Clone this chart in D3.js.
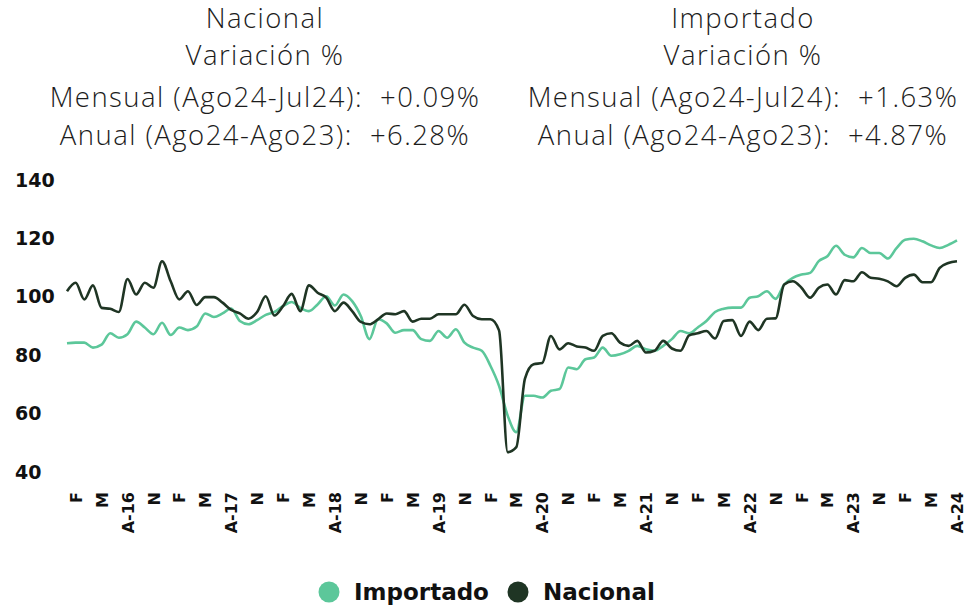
<!DOCTYPE html>
<html>
<head>
<meta charset="utf-8">
<script src="https://cdn.jsdelivr.net/npm/d3@7"></script>
<style>
  html, body { margin: 0; padding: 0; background: #fff; }
  svg text { white-space: pre; }
</style>
</head>
<body>
<svg id="chart" width="979" height="606"></svg>
<script>
// Monthly index, Jan 2016 - Aug 2024
const nacional = [
  101.9, 104.8, 99.1, 103.9, 96.2, 95.9, 94.8, 106.1, 100.8, 104.8,
  103.1, 112.2, 105.3, 99.1, 101.9, 97.2, 99.9, 99.9, 98.0, 95.5,
  94.3, 92.5, 94.8, 100.2, 93.6, 96.8, 101.0, 95.1, 103.9, 101.4,
  99.7, 95.1, 98.0, 95.1, 91.4, 90.6, 92.3, 94.3, 94.0, 95.1,
  91.5, 92.5, 92.5, 94.0, 94.0, 94.0, 97.3, 93.4, 92.3, 92.3,
  88.5, 46.8, 48.5, 72.0, 76.9, 77.3, 86.6, 82.0, 84.1, 83.0,
  82.6, 81.5, 86.6, 87.5, 84.3, 83.2, 84.9, 80.9, 81.5, 84.9,
  82.3, 81.5, 86.8, 87.5, 88.3, 85.7, 91.7, 92.0, 86.6, 91.5,
  88.6, 92.5, 92.6, 104.2, 105.3, 103.1, 99.7, 103.1, 104.2, 100.8,
  105.7, 105.3, 108.4, 106.5, 106.2, 105.3, 103.6, 106.5, 107.6, 105.0,
  105.0, 109.9, 111.6, 112.2
];

const importado = [
  84.1, 84.3, 84.3, 82.6, 83.6, 87.5, 86.0, 87.2, 91.5, 89.5,
  87.2, 91.1, 86.9, 89.5, 88.6, 89.8, 94.3, 93.1, 94.3, 96.0,
  91.7, 90.6, 92.0, 93.8, 94.8, 96.8, 98.2, 96.2, 95.1, 97.4,
  100.2, 97.0, 100.8, 98.5, 93.4, 85.5, 92.3, 90.9, 87.7, 88.6,
  88.6, 85.5, 84.9, 88.3, 86.0, 88.9, 84.3, 82.6, 81.5, 76.4,
  69.5, 59.3, 53.6, 66.1, 66.1, 65.5, 67.8, 68.4, 75.8, 75.2,
  78.6, 79.2, 82.6, 79.8, 80.3, 81.5, 83.2, 82.0, 81.5, 83.2,
  85.5, 88.3, 87.5, 89.5, 91.7, 94.8, 95.9, 96.3, 96.3, 99.7,
  100.2, 101.9, 99.3, 104.2, 106.5, 107.6, 108.2, 112.2, 113.9, 117.5,
  114.4, 113.5, 116.7, 115.0, 115.0, 113.1, 116.7, 119.5, 119.9, 119.0,
  117.6, 116.7, 117.8, 119.3
];

// tick every 3 months starting Feb 2016
const xTickLabels = [
  'F', 'M', 'A-16', 'N', 'F', 'M', 'A-17', 'N', 'F', 'M', 'A-18', 'N',
  'F', 'M', 'A-19', 'N', 'F', 'M', 'A-20', 'N', 'F', 'M', 'A-21', 'N',
  'F', 'M', 'A-22', 'N', 'F', 'M', 'A-23', 'N', 'F', 'M', 'A-24'
];
const yTicks = [40, 60, 80, 100, 120, 140];

const headerNacional = ['Nacional', 'Variación %', 'Mensual (Ago24-Jul24):  +0.09%', 'Anual (Ago24-Ago23):  +6.28%'];
const headerImportado = ['Importado', 'Variación %', 'Mensual (Ago24-Jul24):  +1.63%', 'Anual (Ago24-Ago23):  +4.87%'];

const series = [
  { name: 'Importado', values: importado, color: '#5cc79a' },
  { name: 'Nacional', values: nacional, color: '#1f3524' }
];

const svg = d3.select('#chart');

const x = d3.scaleLinear().domain([0, nacional.length - 1]).range([67, 957]);
const y = d3.scaleLinear().domain([40, 140]).range([472, 180]);

// header blocks
const headerFont = "'Open Sans', sans-serif";
const baselines = [28, 65, 107, 145];
[[headerNacional, 265], [headerImportado, 743]].forEach(([lines, cx]) => {
  svg.append('g')
    .selectAll('text')
    .data(lines)
    .join('text')
    .attr('x', cx)
    .attr('y', (d, i) => baselines[i])
    .attr('text-anchor', 'middle')
    .style('font-family', headerFont)
    .style('font-weight', 300)
    .style('font-size', '27.5px')
    .style('letter-spacing', '1.45px')
    .style('fill', '#1c1c1c')
    .text(d => d);
});

// y axis labels
const yAxis = svg.append('g')
  .attr('transform', 'translate(15,0)')
  .call(d3.axisLeft(y).tickValues(yTicks).tickSize(0).tickPadding(0));
yAxis.select('.domain').remove();
yAxis.selectAll('text')
  .attr('text-anchor', 'start')
  .attr('x', 0)
  .style('font-family', "'DejaVu Sans', sans-serif")
  .style('font-weight', 700)
  .style('font-size', '19px')
  .style('fill', '#111');

// x axis labels (rotated)
const tickIdx = xTickLabels.map((d, i) => 1 + i * 3);
const xAxis = svg.append('g')
  .attr('transform', 'translate(0,492)')
  .call(d3.axisBottom(x).tickValues(tickIdx).tickSize(0).tickPadding(0)
    .tickFormat((d, i) => xTickLabels[i]));
xAxis.select('.domain').remove();
xAxis.selectAll('text')
  .attr('transform', 'rotate(-90)')
  .attr('text-anchor', 'end')
  .attr('x', 0)
  .attr('y', 0)
  .attr('dy', '0.35em')
  .style('font-family', "'DejaVu Sans', sans-serif")
  .style('font-weight', 700)
  .style('font-size', '16px')
  .style('fill', '#111');

// lines
const line = d3.line()
  .x((d, i) => x(i))
  .y(d => y(d))
  .curve(d3.curveMonotoneX);

svg.append('g')
  .selectAll('path')
  .data(series)
  .join('path')
  .attr('d', d => line(d.values))
  .attr('fill', 'none')
  .attr('stroke', d => d.color)
  .attr('stroke-width', 2.6)
  .attr('stroke-linejoin', 'round');

// legend
const legend = svg.append('g').attr('transform', 'translate(0,592)');
const legendX = [329, 518];
series.forEach((s, i) => {
  legend.append('circle')
    .attr('cx', legendX[i])
    .attr('cy', 0)
    .attr('r', 10.5)
    .attr('fill', s.color);
  legend.append('text')
    .attr('x', legendX[i] + 25)
    .attr('y', 8)
    .style('font-family', "'DejaVu Sans', sans-serif")
    .style('font-weight', 700)
    .style('font-size', '23px')
    .style('fill', '#111')
    .text(s.name);
});
</script>
</body>
</html>
